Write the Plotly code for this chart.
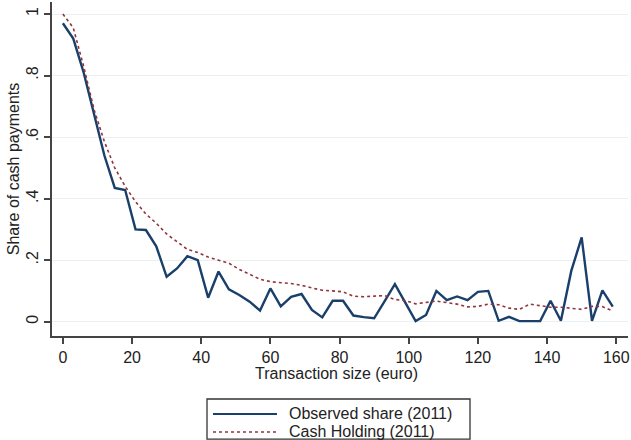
import plotly.graph_objects as go

# Transaction size (euro)
size = list(range(0, 160, 3))

observed_share = [
    0.97, 0.92, 0.81, 0.67, 0.54,
    0.435, 0.428, 0.30, 0.298, 0.245,
    0.146, 0.173, 0.213, 0.200, 0.078,
    0.163, 0.105, 0.087, 0.065, 0.036,
    0.108, 0.050, 0.081, 0.090, 0.038,
    0.014, 0.068, 0.068, 0.020, 0.015,
    0.011, 0.066, 0.122, 0.062, 0.002,
    0.022, 0.100, 0.070, 0.082, 0.070,
    0.097, 0.100, 0.003, 0.016, 0.002,
    0.002, 0.002, 0.068, 0.003, 0.165,
    0.274, 0.003, 0.102, 0.049,
]

cash_holding = [
    1.00, 0.955, 0.83, 0.69, 0.585,
    0.50, 0.44, 0.39, 0.35, 0.32,
    0.285, 0.26, 0.235, 0.225, 0.21,
    0.20, 0.19, 0.17, 0.155, 0.138,
    0.13, 0.127, 0.124, 0.118, 0.11,
    0.102, 0.10, 0.097, 0.083, 0.081,
    0.083, 0.085, 0.072, 0.069, 0.058,
    0.062, 0.067, 0.062, 0.057, 0.048,
    0.05, 0.057, 0.055, 0.044, 0.04,
    0.057, 0.051, 0.047, 0.047, 0.044,
    0.04, 0.05, 0.049, 0.035,
]

series_names = ["Observed share (2011)", "Cash Holding (2011)"]

x_ticks = [0, 20, 40, 60, 80, 100, 120, 140, 160]
y_ticks = [0, 0.2, 0.4, 0.6, 0.8, 1]
y_tick_text = ["0", ".2", ".4", ".6", ".8", "1"]
x_title = "Transaction size (euro)"
y_title = "Share of cash payments"

FONT = "Liberation Sans, Arial, sans-serif"
TEXT = "#222222"
OBS_LINE = dict(color="#1a3f6a", width=2.4)
CASH_LINE = dict(color="#90353b", width=1.6, dash="dot")

fig = go.Figure()
fig.add_trace(go.Scatter(x=size, y=observed_share, mode="lines",
                         name=series_names[0], line=OBS_LINE))
fig.add_trace(go.Scatter(x=size, y=cash_holding, mode="lines",
                         name=series_names[1], line=CASH_LINE))

# Legend box drawn below the axis (paper coordinates)
L, R = 0.2691, 0.7257
TOP, BOT = -0.1886, -0.3085
ROW1, ROW2 = -0.2335, -0.2874
SX0, SX1, TX = 0.2795, 0.3906, 0.408

shapes = [
    dict(type="rect", xref="paper", yref="paper", x0=L, x1=R, y0=BOT, y1=TOP,
         line=dict(color="#333333", width=1.3), fillcolor="white", layer="above"),
    dict(type="line", xref="paper", yref="paper", x0=SX0, x1=SX1, y0=ROW1, y1=ROW1,
         line=dict(color=OBS_LINE["color"], width=1.8)),
    dict(type="line", xref="paper", yref="paper", x0=SX0, x1=SX1, y0=ROW2, y1=ROW2,
         line=dict(color=CASH_LINE["color"], width=1.4, dash="dot")),
]
annotations = [
    dict(text=series_names[0], xref="paper", yref="paper", x=TX, y=ROW1,
         xanchor="left", yanchor="middle", showarrow=False,
         font=dict(size=16, color=TEXT)),
    dict(text=series_names[1], xref="paper", yref="paper", x=TX, y=ROW2,
         xanchor="left", yanchor="middle", showarrow=False,
         font=dict(size=16, color=TEXT)),
    dict(text=x_title, xref="paper", yref="paper", x=0.494, y=-0.112,
         xanchor="center", yanchor="middle", showarrow=False,
         font=dict(size=16, color=TEXT)),
]

fig.update_layout(
    width=631, height=440,
    margin=dict(l=52, r=3, t=2, b=104, autoexpand=False),
    paper_bgcolor="white", plot_bgcolor="white",
    font=dict(family=FONT, size=16, color=TEXT),
    showlegend=False,
    shapes=shapes,
    annotations=annotations,
    xaxis=dict(
        range=[-3.15, 163.4], tickvals=x_ticks,
        showgrid=False, zeroline=False,
        showline=True, linecolor="#444444", linewidth=1.5,
        ticks="outside", ticklen=6, tickcolor="#444444", tickwidth=1.5,
        tickfont=dict(size=16),
    ),
    yaxis=dict(
        range=[-0.0465, 1.039], tickvals=y_ticks, ticktext=y_tick_text,
        tickangle=-90,
        showgrid=True, gridcolor="#eaf0f2", gridwidth=1, zeroline=False,
        showline=True, linecolor="#444444", linewidth=1.5,
        ticks="outside", ticklen=6, tickcolor="#444444", tickwidth=1.5,
        title=dict(text=y_title, standoff=0, font=dict(size=16)),
        tickfont=dict(size=16),
    ),
)

fig.write_html("out.html")
